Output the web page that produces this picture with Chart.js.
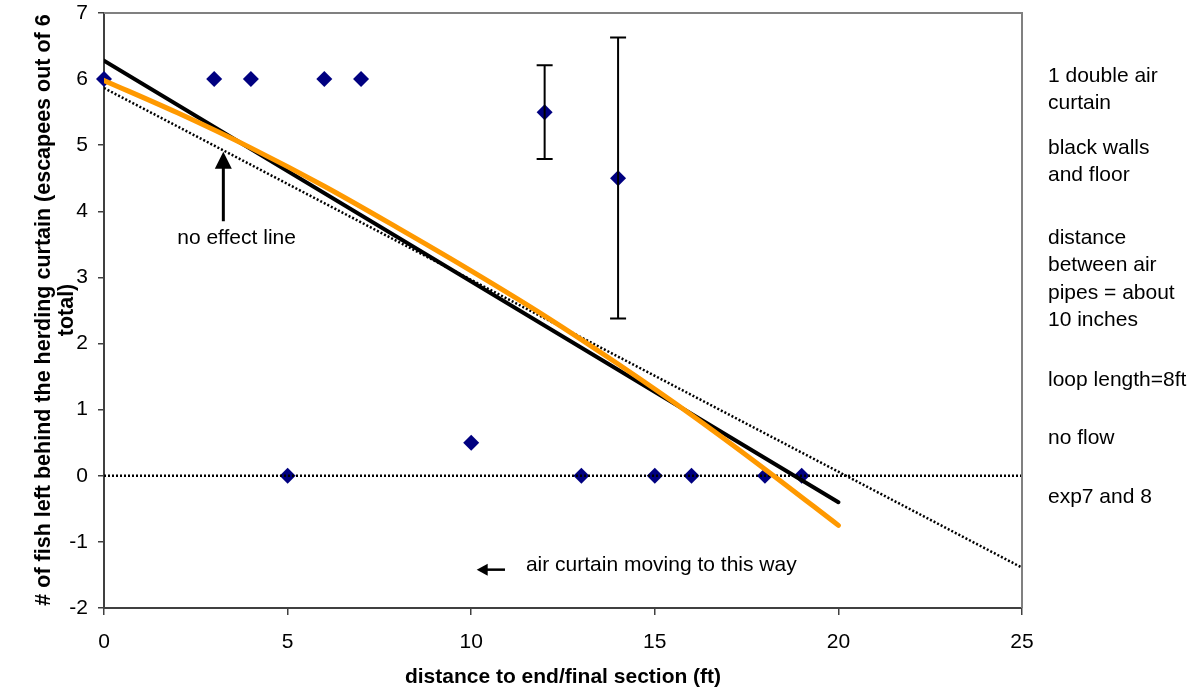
<!DOCTYPE html>
<html>
<head>
<meta charset="utf-8">
<script src="https://cdn.jsdelivr.net/npm/chart.js@4/dist/chart.umd.min.js"></script>
<style>
html,body{margin:0;padding:0;background:#fff;}
#wrap{width:1196px;height:690px;position:relative;}
</style>
</head>
<body>
<div id="wrap"><canvas id="c" width="1196" height="690"></canvas></div>
<script>
// ---- data ----
const xTicks = [0, 5, 10, 15, 20, 25];
const yTicks = [-2, -1, 0, 1, 2, 3, 4, 5, 6, 7];

const obsX = [0, 3, 4, 6, 7, 12, 14, 5, 10, 13, 15, 16, 18, 19];
const obsY = [6, 6, 6, 6, 6, 5.5, 4.5, 0, 0.5, 0, 0, 0, 0, 0];

const errX = [12, 14];
const errLow = [4.79, 2.38];
const errHigh = [6.21, 6.63];

const blackFitX = [0, 20];
const blackFitY = [6.28, -0.4];

const orangeFitX = [0, 2, 4, 6, 8, 10, 12, 14, 16, 18, 20];
const orangeFitY = [5.98, 5.49, 4.96, 4.38, 3.75, 3.10, 2.42, 1.69, 0.92, 0.10, -0.75];

const noEffectX = [0, 25];
const noEffectY = [5.865, -1.39];

const zeroLineX = [0, 25];
const zeroLineY = [0, 0];

const yTitleLines = ["# of fish left behind the herding curtain (escapees out of 6", "total)"];
const xTitle = "distance to end/final section (ft)";
const noteLines = ["1 double air", "curtain", "black walls", "and floor", "distance", "between air", "pipes = about", "10 inches", "loop length=8ft", "no flow", "exp7 and 8"];
const noteY = [76, 103, 148, 175, 238, 265, 293, 320, 380, 438, 497];

const FONT = "'Liberation Sans', Arial, Helvetica, sans-serif";
const pts = (xs, ys) => xs.map((x, i) => ({x: x, y: ys[i]}));

const extras = {
  id: 'extras',
  afterDatasetsDraw(chart) {
    const ctx = chart.ctx;
    const xs = chart.scales.x, ys = chart.scales.y;
    ctx.save();
    // error bars
    ctx.strokeStyle = '#000';
    ctx.lineWidth = 2;
    errX.forEach((x, i) => {
      const px = xs.getPixelForValue(x);
      const p1 = ys.getPixelForValue(errLow[i]);
      const p2 = ys.getPixelForValue(errHigh[i]);
      ctx.beginPath();
      ctx.moveTo(px, p1); ctx.lineTo(px, p2);
      ctx.moveTo(px - 8, p1); ctx.lineTo(px + 8, p1);
      ctx.moveTo(px - 8, p2); ctx.lineTo(px + 8, p2);
      ctx.stroke();
    });
    // "no effect line" arrow (up)
    const ax = xs.getPixelForValue(3.25);
    const aBot = ys.getPixelForValue(3.85);
    const aTip = ys.getPixelForValue(4.9);
    ctx.lineWidth = 3;
    ctx.beginPath();
    ctx.moveTo(ax, aBot); ctx.lineTo(ax, aTip + 14);
    ctx.stroke();
    ctx.fillStyle = '#000';
    ctx.beginPath();
    ctx.moveTo(ax, aTip); ctx.lineTo(ax - 8.5, aTip + 17); ctx.lineTo(ax + 8.5, aTip + 17);
    ctx.closePath(); ctx.fill();
    ctx.font = "21px " + FONT;
    ctx.fillStyle = '#000';
    ctx.textAlign = 'center';
    ctx.textBaseline = 'middle';
    ctx.fillText("no effect line", xs.getPixelForValue(3.61), ys.getPixelForValue(3.6));
    // "air curtain" arrow (left)
    const bTip = xs.getPixelForValue(10.15);
    const bTail = xs.getPixelForValue(10.92);
    const by = ys.getPixelForValue(-1.42);
    ctx.lineWidth = 2.5;
    ctx.beginPath();
    ctx.moveTo(bTail, by); ctx.lineTo(bTip + 8, by);
    ctx.stroke();
    ctx.beginPath();
    ctx.moveTo(bTip, by); ctx.lineTo(bTip + 11, by - 6); ctx.lineTo(bTip + 11, by + 6);
    ctx.closePath(); ctx.fill();
    ctx.textAlign = 'left';
    ctx.fillText("air curtain moving to this way", xs.getPixelForValue(11.49), ys.getPixelForValue(-1.35));
    ctx.restore();
  },
  afterDraw(chart) {
    const ctx = chart.ctx;
    const a = chart.chartArea;
    ctx.save();
    // top / right border
    ctx.strokeStyle = '#808080';
    ctx.lineWidth = 2;
    ctx.beginPath();
    ctx.moveTo(a.left, a.top); ctx.lineTo(a.right, a.top); ctx.lineTo(a.right, a.bottom);
    ctx.stroke();
    ctx.fillStyle = '#000';
    // y title
    ctx.font = "bold 21.5px " + FONT;
    ctx.textAlign = 'center';
    ctx.textBaseline = 'middle';
    const cy = 310;
    const lx = [44, 67];
    yTitleLines.forEach((t, i) => {
      ctx.save();
      ctx.translate(lx[i], cy);
      ctx.rotate(-Math.PI / 2);
      ctx.fillText(t, 0, 0);
      ctx.restore();
    });
    // x title
    ctx.font = "bold 21px " + FONT;
    ctx.fillText(xTitle, (a.left + a.right) / 2, 677);
    // notes on right
    ctx.font = "21px " + FONT;
    ctx.textAlign = 'left';
    noteLines.forEach((t, i) => ctx.fillText(t, 1048, noteY[i]));
    ctx.restore();
  }
};

new Chart(document.getElementById('c'), {
  type: 'scatter',
  data: {
    datasets: [
      {
        label: 'zero',
        type: 'line',
        data: pts(zeroLineX, zeroLineY),
        borderColor: '#000', borderWidth: 2.5, borderDash: [2, 2],
        pointRadius: 0, fill: false, order: 1
      },
      {
        label: 'no effect',
        type: 'line',
        data: pts(noEffectX, noEffectY),
        borderColor: '#000', borderWidth: 2.5, borderDash: [2, 2],
        pointRadius: 0, fill: false, order: 2
      },
      {
        label: 'linear fit',
        type: 'line',
        data: pts(blackFitX, blackFitY),
        borderColor: '#000', borderWidth: 4, borderCapStyle: 'round',
        pointRadius: 0, fill: false, order: 3
      },
      {
        label: 'poly fit',
        type: 'line',
        data: pts(orangeFitX, orangeFitY),
        borderColor: '#FF9900', borderWidth: 5, borderCapStyle: 'round',
        tension: 0.4, cubicInterpolationMode: 'monotone',
        pointRadius: 0, fill: false, order: 0
      },
      {
        label: 'observed',
        data: pts(obsX, obsY),
        pointStyle: 'rectRot', pointRadius: 8,
        backgroundColor: '#000080', borderColor: '#000080', borderWidth: 0,
        clip: false, order: 10
      }
    ]
  },
  options: {
    responsive: false,
    animation: false,
    events: [],
    layout: { autoPadding: false, padding: { top: 13, right: 174, left: 0, bottom: 0 } },
    plugins: { legend: { display: false }, tooltip: { enabled: false }, title: { display: false } },
    scales: {
      x: {
        type: 'linear', min: 0, max: 25,
        afterFit: s => { s.height = 82; s.paddingLeft = 0; s.paddingRight = 0; },
        afterBuildTicks: s => { s.ticks = xTicks.map(v => ({value: v})); },
        grid: { drawOnChartArea: false, drawTicks: true, tickLength: 7, color: '#404040', lineWidth: 1.5 },
        border: { color: '#404040', width: 2 },
        ticks: { color: '#000', font: { family: FONT, size: 21 }, padding: 15, maxRotation: 0 }
      },
      y: {
        type: 'linear', min: -2, max: 7,
        afterFit: s => { s.width = 104; s.paddingTop = 0; s.paddingBottom = 0; },
        afterBuildTicks: s => { s.ticks = yTicks.map(v => ({value: v})); },
        grid: { drawOnChartArea: false, drawTicks: true, tickLength: 6, color: '#404040', lineWidth: 1.5 },
        border: { color: '#404040', width: 2 },
        ticks: { color: '#000', font: { family: FONT, size: 21 }, padding: 10 }
      }
    }
  },
  plugins: [extras]
});
</script>
</body>
</html>
